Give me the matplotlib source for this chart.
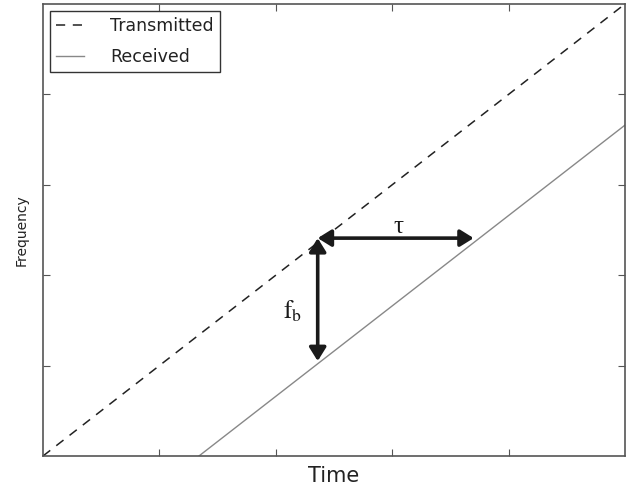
import matplotlib
matplotlib.use('Agg')
import matplotlib.pyplot as plt

# Chirp lines (data units, axes 0..5)
time_tx = [0.0, 5.0]
freq_tx = [0.0, 5.0]
tau = 1.34
time_rx = [tau, 5.0]
freq_rx = [0.0, 5.0 - tau]

# Point where the arrows meet
t_mark = 2.36
x_ticks = [1, 2, 3, 4]
y_ticks = [1, 2, 3, 4]

plt.rcParams['mathtext.fontset'] = 'stix'

fig = plt.figure(figsize=(6.36, 4.91), dpi=100)
ax = fig.add_axes([0.0676, 0.0713, 0.9151, 0.9206])

ax.plot(time_tx, freq_tx, color='#222222', linestyle=(0, (6, 5)), lw=1.1, label='Transmitted')
ax.plot(time_rx, freq_rx, color='#888888', lw=1.0, label='Received')

arrow = dict(arrowstyle='<|-|>,head_length=0.45,head_width=0.28', lw=2.6,
             color='#1a1a1a', mutation_scale=18, shrinkA=0, shrinkB=0)
# vertical: beat frequency
ax.annotate('', xy=(t_mark, t_mark - tau + 0.03), xytext=(t_mark, t_mark + 0.05),
            arrowprops=arrow)
# horizontal: delay
ax.annotate('', xy=(t_mark + tau, t_mark + 0.05), xytext=(t_mark, t_mark + 0.05),
            arrowprops=arrow)
ax.text(t_mark + tau / 2 + 0.02, t_mark + 0.17, 'τ', fontsize=18,
        family='Liberation Serif', ha='center', va='center', color='#1a1a1a')
ax.text(t_mark - 0.22, 1.6, r'$\mathrm{f_b}$', fontsize=18,
        ha='center', va='center', color='#1a1a1a')

ax.set_xlim(0, 5)
ax.set_ylim(0, 5)
ax.set_xticks(x_ticks)
ax.set_yticks(y_ticks)
ax.set_xticklabels([])
ax.set_yticklabels([])
ax.tick_params(direction='in', length=5, width=0.8, colors='#555555',
               top=True, right=True)
for sp in ax.spines.values():
    sp.set_color('#555555')
    sp.set_linewidth(1.2)

ax.set_xlabel('Time', fontsize=15, color='#222222', labelpad=4)
ax.set_ylabel('Frequency', fontsize=10, color='#222222', labelpad=7)

leg = ax.legend(loc='upper left', fontsize=12.5, fancybox=False, framealpha=1,
                edgecolor='#333333', handlelength=1.6, handletextpad=1.5,
                labelspacing=0.75, borderaxespad=0.4, borderpad=0.35)
leg.get_frame().set_linewidth(1.0)
for txt in leg.get_texts():
    txt.set_color('#222222')

fig.savefig('out.png', dpi=100)
